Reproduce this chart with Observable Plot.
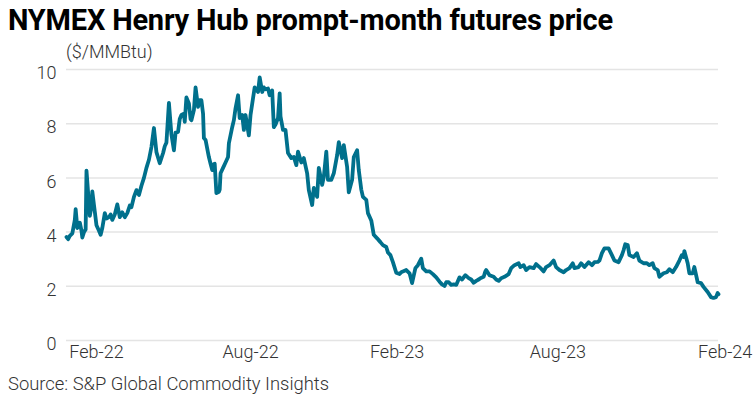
<!DOCTYPE html>
<html>
<head>
<meta charset="utf-8">
<script src="https://cdn.jsdelivr.net/npm/d3@7"></script>
<script src="https://cdn.jsdelivr.net/npm/@observablehq/plot@0.6"></script>
<style>
  body { margin: 0; background: #fff; }
  #wrap { position: relative; width: 756px; height: 415px; font-family: Roboto, "Open Sans", sans-serif; }
  .title { position: absolute; z-index: 2; left: 8px; top: 6px; font-size: 29px; line-height: 28px; font-weight: 700; color: #000; white-space: nowrap; letter-spacing: -0.2px; }
  .sub { position: absolute; z-index: 2; left: 66px; top: 43px; font-size: 18px; line-height: 18px; font-weight: 300; color: #333; white-space: nowrap; }
  .src { position: absolute; z-index: 2; left: 8px; top: 375px; font-size: 18.4px; line-height: 18px; font-weight: 300; color: #333; white-space: nowrap; }
  #chart { position: absolute; z-index: 1; left: 0; top: 40px; }
</style>
</head>
<body>
<div id="wrap">
  <div id="chart"></div>
  <div class="title">NYMEX Henry Hub prompt-month futures price</div>
  <div class="sub">($/MMBtu)</div>
  <div class="src">Source: S&amp;P Global Commodity Insights</div>
</div>
<script>
const dates = [
"2022-01-03","2022-01-05","2022-01-07","2022-01-10","2022-01-13","2022-01-14","2022-01-16","2022-01-19","2022-01-21","2022-01-22",
"2022-01-24","2022-01-26","2022-01-27","2022-01-31","2022-02-02","2022-02-03","2022-02-06","2022-02-08","2022-02-11","2022-02-13",
"2022-02-15","2022-02-18","2022-02-20","2022-02-23","2022-02-25","2022-02-27","2022-03-02","2022-03-05","2022-03-08","2022-03-11",
"2022-03-14","2022-03-17","2022-03-20","2022-03-22","2022-03-25","2022-03-28","2022-03-31","2022-04-03","2022-04-06","2022-04-09",
"2022-04-12","2022-04-15","2022-04-18","2022-04-21","2022-04-25","2022-04-29","2022-05-01","2022-05-03","2022-05-06","2022-05-09",
"2022-05-12","2022-05-14","2022-05-17","2022-05-19","2022-05-21","2022-05-24","2022-05-25","2022-05-27","2022-05-30","2022-06-01",
"2022-06-02","2022-06-05","2022-06-07","2022-06-10","2022-06-12","2022-06-14","2022-06-16","2022-06-17","2022-06-19","2022-06-22",
"2022-06-23","2022-06-25","2022-06-27","2022-06-29","2022-06-30","2022-07-02","2022-07-05","2022-07-06","2022-07-07","2022-07-10",
"2022-07-13","2022-07-16","2022-07-17","2022-07-21","2022-07-23","2022-07-25","2022-07-28","2022-07-30","2022-08-02","2022-08-04",
"2022-08-06","2022-08-10","2022-08-12","2022-08-15","2022-08-17","2022-08-21","2022-08-23","2022-08-26","2022-08-28","2022-08-30",
"2022-09-02","2022-09-04","2022-09-07","2022-09-09","2022-09-11","2022-09-14","2022-09-16","2022-09-17","2022-09-20","2022-09-23",
"2022-09-26","2022-09-30","2022-10-03","2022-10-06","2022-10-08","2022-10-12","2022-10-15","2022-10-19","2022-10-21","2022-10-25",
"2022-10-27","2022-10-31","2022-11-02","2022-11-06","2022-11-08","2022-11-11","2022-11-13","2022-11-17","2022-11-20","2022-11-24",
"2022-11-26","2022-11-30","2022-12-02","2022-12-06","2022-12-08","2022-12-12","2022-12-14","2022-12-18","2022-12-20","2022-12-23",
"2022-12-25","2022-12-29","2022-12-31","2023-01-04","2023-01-07","2023-01-11","2023-01-15","2023-01-18","2023-01-22","2023-01-24",
"2023-01-27","2023-01-30","2023-02-03","2023-02-07","2023-02-09","2023-02-11","2023-02-15","2023-02-19","2023-02-22","2023-02-26",
"2023-03-01","2023-03-05","2023-03-07","2023-03-11","2023-03-15","2023-03-19","2023-03-23","2023-03-27","2023-03-30","2023-04-02",
"2023-04-04","2023-04-07","2023-04-10","2023-04-13","2023-04-16","2023-04-20","2023-04-23","2023-04-27","2023-05-01","2023-05-04",
"2023-05-07","2023-05-10","2023-05-13","2023-05-15","2023-05-19","2023-05-21","2023-05-22","2023-05-26","2023-05-31","2023-06-03",
"2023-06-06","2023-06-09","2023-06-13","2023-06-18","2023-06-21","2023-06-25","2023-06-30","2023-07-02","2023-07-06","2023-07-09",
"2023-07-13","2023-07-18","2023-07-21","2023-07-25","2023-07-30","2023-08-02","2023-08-06","2023-08-11","2023-08-14","2023-08-18",
"2023-08-23","2023-08-26","2023-08-30","2023-09-03","2023-09-05","2023-09-10","2023-09-13","2023-09-17","2023-09-22","2023-09-26",
"2023-09-29","2023-10-03","2023-10-05","2023-10-08","2023-10-11","2023-10-16","2023-10-20","2023-10-23","2023-10-28","2023-11-01",
"2023-11-03","2023-11-05","2023-11-08","2023-11-10","2023-11-15","2023-11-19","2023-11-22","2023-11-27","2023-12-01","2023-12-04",
"2023-12-08","2023-12-10","2023-12-14","2023-12-16","2023-12-21","2023-12-25","2023-12-28","2024-01-01","2024-01-05","2024-01-09",
"2024-01-12","2024-01-14","2024-01-15","2024-01-19","2024-01-21","2024-01-25","2024-01-27","2024-01-31","2024-02-04","2024-02-07",
"2024-02-12","2024-02-16","2024-02-19","2024-02-22","2024-02-24","2024-02-25"
];
const prices = [
3.82,3.74,3.86,3.95,4.45,4.85,4.15,4.35,4.05,3.80,
4.00,4.10,6.27,4.60,4.95,5.50,4.75,4.25,4.05,3.90,
4.15,4.70,4.50,4.55,4.65,4.45,4.65,5.02,4.55,4.73,
4.55,4.70,4.98,4.92,5.30,5.55,5.37,5.71,6.00,6.37,
6.67,7.14,7.84,6.95,6.54,6.92,7.17,7.30,8.77,7.60,
7.02,7.67,7.70,8.17,8.32,8.37,8.07,8.97,8.75,8.17,
8.13,8.50,9.34,8.62,8.87,8.87,8.37,7.47,7.40,6.92,
6.77,6.52,6.29,6.51,6.52,5.44,5.49,5.57,6.17,6.37,
6.57,6.77,7.27,7.87,8.13,8.57,9.05,8.21,8.32,7.77,
8.32,7.57,8.32,8.94,9.34,9.17,9.71,9.17,9.34,9.27,
9.30,9.05,9.23,7.87,7.97,8.21,9.12,8.27,7.77,7.77,
6.92,6.73,6.77,6.47,6.97,6.57,6.73,6.17,5.55,5.00,
5.63,5.30,6.37,5.74,6.04,6.97,5.93,5.93,6.17,6.84,
7.32,6.73,7.21,6.40,5.47,5.93,6.77,7.02,6.29,5.57,
5.30,5.19,4.70,4.43,3.90,3.77,3.63,3.52,3.45,3.25,
3.15,2.89,2.50,2.45,2.52,2.55,2.60,2.48,2.12,2.67,
2.78,3.02,2.67,2.55,2.55,2.45,2.33,2.17,2.07,2.01,
2.15,2.15,2.05,2.07,2.05,2.33,2.25,2.41,2.30,2.25,
2.13,2.20,2.25,2.30,2.35,2.55,2.60,2.41,2.35,2.25,
2.20,2.30,2.35,2.45,2.67,2.78,2.85,2.71,2.78,2.60,
2.71,2.67,2.82,2.71,2.55,2.71,2.78,2.95,2.71,2.60,
2.52,2.60,2.67,2.85,2.67,2.71,2.85,2.71,2.89,2.78,
2.89,2.90,2.95,3.22,3.40,3.40,3.15,2.95,2.89,3.15,
3.33,3.55,3.52,3.15,3.08,3.22,2.95,2.85,2.85,2.78,
2.85,2.67,2.60,2.35,2.48,2.52,2.63,2.52,2.71,2.95,
3.15,3.08,3.30,2.85,2.48,2.48,2.71,2.15,2.12,1.98,
1.79,1.60,1.57,1.60,1.75,1.71
];
const yTicks = [0, 2, 4, 6, 8, 10];
const xTickDates = ["2022-02-08", "2022-08-12", "2023-02-04", "2023-08-16", "2024-03-04"];
const xTickLabels = ["Feb-22", "Aug-22", "Feb-23", "Aug-23", "Feb-24"];

const data = dates.map((d, i) => ({date: new Date(d), price: prices[i]}));
const xt = xTickDates.map((d, i) => ({date: new Date(d), label: xTickLabels[i]}));

const chart = Plot.plot({
  width: 756,
  height: 340,
  marginLeft: 66,
  marginRight: 38,
  marginTop: 29,
  marginBottom: 40,
  style: "font-family: Roboto, 'Open Sans', sans-serif; font-weight: 300; color: #333; background: transparent; overflow: visible;",
  x: {type: "utc", domain: d3.extent(data, d => d.date), axis: null},
  y: {domain: [0, 10]},
  marks: [
    Plot.ruleY(yTicks, {stroke: "#e4e4e4", strokeWidth: 1.5}),
    Plot.axisY({ticks: yTicks, tickSize: 0, tickPadding: 10, fontSize: 18, dy: 4, label: null}),
    Plot.text(xt, {x: "date", text: "label", frameAnchor: "bottom", dy: 17, fontSize: 18, fill: "#333"}),
    Plot.line(data, {x: "date", y: "price", stroke: "#00708c", strokeWidth: 3.8, strokeLinejoin: "round", strokeLinecap: "round"})
  ]
});
document.getElementById("chart").appendChild(chart);
</script>
</body>
</html>
